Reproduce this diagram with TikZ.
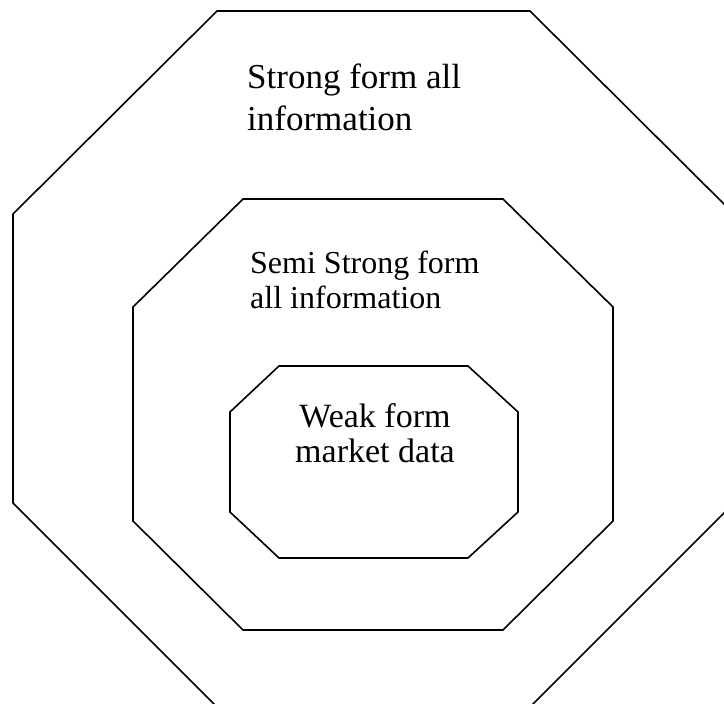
\documentclass[tikz,border=0pt]{standalone}
\usepackage{fontspec}
\setmainfont{Liberation Serif}
\begin{document}
\begin{tikzpicture}[x=1pt,y=-1pt,
  oct/.style={draw=black,line width=1.6pt,line join=miter},
  lbl/.style={inner sep=0pt,align=left,anchor=north west},
  clbl/.style={inner sep=0pt,align=center}]
\useasboundingbox (0,0) rectangle (724,704);
\begin{scope}
\clip (0,0) rectangle (724,704);
\draw[oct] (217,11) -- (530,11) -- (734,214) -- (734,503) -- (530,707) -- (217,707) -- (13,503) -- (13,214) -- cycle;
\end{scope}
\draw[oct] (243,199) -- (503,199) -- (613,307) -- (613,521) -- (503,630) -- (243,630) -- (133,521) -- (133,307) -- cycle;
\draw[oct] (279,366) -- (468,366) -- (518,412) -- (518,512) -- (468,558) -- (279,558) -- (230,512) -- (230,412) -- cycle;
\node[lbl,font=\fontsize{35}{42}\selectfont] (strong) at (247,64) {Strong form all\\information};
\node[lbl,font=\fontsize{32}{35}\selectfont] (semi) at (250,251) {Semi Strong form\\all information};
\node[clbl,font=\fontsize{34}{35}\selectfont] (weak) at (375,433) {Weak form\\market data};
\end{tikzpicture}
\end{document}
